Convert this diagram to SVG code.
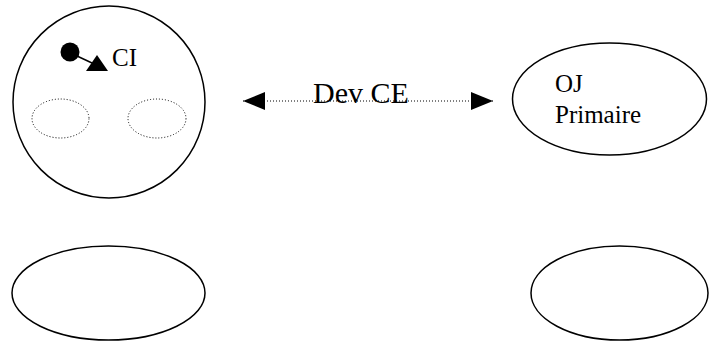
<svg xmlns="http://www.w3.org/2000/svg" width="715" height="341" viewBox="0 0 715 341">
<style>
.n{fill:#fff;stroke:#000;stroke-width:1.5}
.d{fill:none;stroke:#000;stroke-width:1;stroke-dasharray:1 2}
.t{font-family:"Liberation Serif","Times New Roman",serif;font-size:25px;fill:#000}
</style>
<defs>
<marker id="ah" markerWidth="22" markerHeight="18" refX="22" refY="9" orient="auto-start-reverse" markerUnits="userSpaceOnUse">
<path d="M0,0 L22,9 L0,18 Z" fill="#000"/>
</marker>
</defs>
<rect width="715" height="341" fill="#fff"/>
<g id="ci-node">
<circle class="n" cx="109" cy="102" r="96"/>
<ellipse class="d" cx="60.5" cy="118.5" rx="28.5" ry="19.5"/>
<ellipse class="d" cx="157" cy="118.5" rx="29" ry="19.5"/>
<circle cx="70" cy="52" r="9.5" fill="#000"/>
<line x1="77" y1="56" x2="92" y2="63" stroke="#000" stroke-width="1.5"/>
<polygon points="97,55 108,71 86,71" fill="#000"/>
<text class="t" x="112" y="66">CI</text>
</g>
<g id="oj-node">
<ellipse class="n" cx="609.5" cy="99" rx="97" ry="56"/>
<text class="t" x="555" y="92">OJ</text>
<text class="t" x="555" y="123">Primaire</text>
</g>
<g id="bottom-left">
<ellipse class="n" cx="108.5" cy="293" rx="96.5" ry="47"/>
</g>
<g id="bottom-right">
<ellipse class="n" cx="619.5" cy="293" rx="88.5" ry="47"/>
</g>
<g id="connectors">
<line class="d" x1="243" y1="101" x2="493" y2="101" marker-start="url(#ah)" marker-end="url(#ah)"/>
<text class="t" x="313" y="103" style="font-size:30px">Dev CE</text>
</g>
</svg>
